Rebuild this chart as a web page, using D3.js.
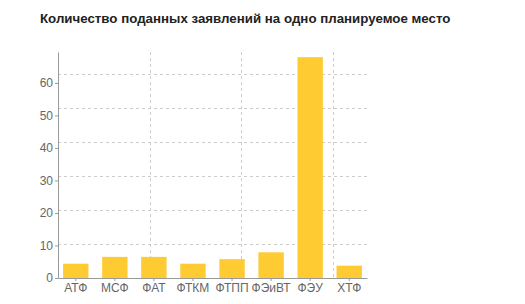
<!DOCTYPE html>
<html>
<head>
<meta charset="utf-8">
<script src="https://cdn.jsdelivr.net/npm/d3@7"></script>
<style>
	body { margin: 0; background: #fff; }
	text { font-family: "Liberation Sans", Arial, sans-serif; }
</style>
</head>
<body>
<script>

let width = 525;
let height = 304;

let margins = {
	top: 52,
	right: 158,
	bottom: 26,
	left: 58
};

// Data
let faculties = ["АТФ", "МСФ", "ФАТ", "ФТКМ", "ФТПП", "ФЭиВТ", "ФЭУ", "ХТФ"];
let applications = [4.4, 6.5, 6.5, 4.4, 5.8, 7.9, 67.9, 3.8];
let yTicks = [0, 10, 20, 30, 40, 50, 60];

let title = "Количество поданных заявлений на одно планируемое место";

let xScale = d3.scaleBand()
	.range([margins.left, width - margins.right])
	.domain(faculties)
	.paddingInner(0.35)
	.paddingOuter(0.13);

let yScale = d3.scaleLinear()
	.range([height - margins.bottom, margins.top])
	.domain([0, 69.5]);

// the grid of the original does not follow the ticks
let gridX = d3.scaleLinear()
	.range([margins.left, width - margins.right])
	.domain([0, 3.37]);

let gridY = d3.scaleLinear()
	.range([height - margins.bottom, margins.top])
	.domain([0, 6.66]);

let svg = d3.select("body")
	.append("svg")
		.attr("width", width)
		.attr("height", height);

// Title
svg.append("text")
	.attr("x", 40)
	.attr("y", 23)
	.style("font-size", "13.3px")
	.style("font-weight", "bold")
	.style("fill", "#222")
	.text(title);

// Grid
svg.append("g")
	.selectAll("line")
	.data([1, 2, 3, 4, 5, 6])
	.enter().append("line")
		.attr("x1", margins.left)
		.attr("x2", width - margins.right)
		.attr("y1", d => Math.round(gridY(d)) + 0.5)
		.attr("y2", d => Math.round(gridY(d)) + 0.5)
		.style("stroke", "#ccc")
		.style("stroke-dasharray", "3,3");

svg.append("g")
	.selectAll("line")
	.data([1, 2, 3])
	.enter().append("line")
		.attr("x1", d => Math.round(gridX(d)) + 0.5)
		.attr("x2", d => Math.round(gridX(d)) + 0.5)
		.attr("y1", margins.top)
		.attr("y2", height - margins.bottom)
		.style("stroke", "#ccc")
		.style("stroke-dasharray", "3,3");

// Bars
svg.append("g")
	.selectAll("rect")
	.data(applications)
	.enter().append("rect")
		.attr("x", (d, i) => xScale(faculties[i]))
		.attr("y", d => yScale(d))
		.attr("width", xScale.bandwidth())
		.attr("height", d => yScale(0) - yScale(d))
		.style("fill", "#fecb33");

// Axes
let xAxis = d3.axisBottom(xScale).tickSize(3).tickSizeOuter(0).tickPadding(2);
let yAxis = d3.axisLeft(yScale).tickValues(yTicks).tickSize(3).tickSizeOuter(0).tickPadding(2);

let gx = svg.append("g")
	.attr("class", "x axis")
	.attr("transform", "translate(0," + (height - margins.bottom) + ")")
	.call(xAxis);

let gy = svg.append("g")
	.attr("class", "y axis")
	.attr("transform", "translate(" + margins.left + ",0)")
	.call(yAxis);

[gx, gy].forEach(g => {
	g.select(".domain").style("stroke", "#999");
	g.selectAll(".tick line").style("stroke", "#999");
	g.selectAll(".tick text")
		.style("font-size", "12px")
		.style("font-family", "Liberation Sans, Arial, sans-serif")
		.style("fill", "#666");
});

</script>
</body>
</html>
